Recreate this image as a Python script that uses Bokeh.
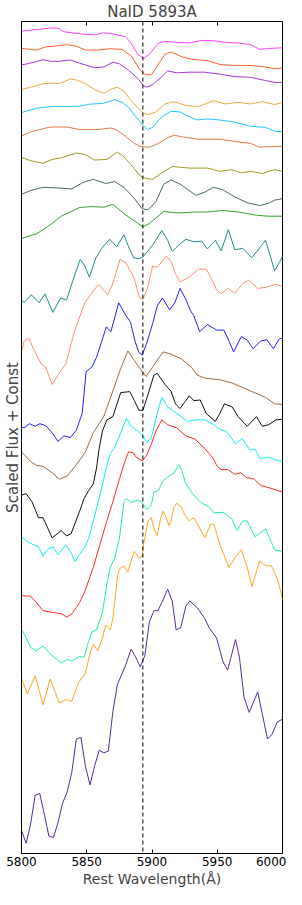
from bokeh.plotting import figure
from bokeh.models import Span, LinearAxis, FixedTicker, Range1d
from bokeh.embed import file_html
from bokeh.resources import INLINE

# ---------------- data (wavelength in Angstrom, scaled flux + const) ----------------
x_ticks = [5800, 5850, 5900, 5950, 6000]
nad_line = 5893

w_magenta = [5800, 5811.5, 5823.5, 5829, 5832.5, 5842, 5849, 5856, 5863, 5870, 5879.5, 5884, 5889, 5893.5,
             5898, 5905, 5910, 5919, 5928.5, 5938, 5947.5, 5956.5, 5966, 5975.5, 5982.5, 5989.5, 6000]
f_magenta = [25.72, 25.77, 25.82, 25.80, 25.70, 25.65, 25.62, 25.60, 25.67, 25.63, 25.55, 25.35, 25.00, 24.87,
             25.00, 25.35, 25.40, 25.37, 25.35, 25.43, 25.42, 25.37, 25.35, 25.30, 25.15, 25.18, 25.20]

w_orangered = [5800, 5807, 5811.5, 5818.5, 5825.5, 5835, 5842, 5849, 5858.5, 5868, 5877, 5884, 5891, 5894.5,
               5899.5, 5905, 5910, 5914.5, 5924, 5933, 5942.5, 5952, 5963.5, 5975.5, 5987, 5994, 6000]
f_orangered = [25.18, 25.15, 25.13, 25.23, 25.25, 25.30, 25.25, 25.13, 25.13, 25.17, 25.15, 24.95, 24.50, 24.38,
               24.35, 24.70, 25.00, 25.07, 24.90, 24.83, 24.80, 24.68, 24.65, 24.65, 24.60, 24.55, 24.57]

w_purple = [5800, 5804.5, 5811.5, 5816.5, 5822, 5829, 5837.5, 5844.5, 5856, 5863, 5870, 5875, 5882, 5889,
            5893.5, 5896, 5900.5, 5907.5, 5912, 5919, 5928.5, 5940, 5952, 5963.5, 5975.5, 5987, 5994, 6000]
f_purple = [24.67, 24.70, 24.77, 24.83, 24.78, 24.78, 24.82, 24.72, 24.58, 24.60, 24.75, 24.70, 24.50, 24.25,
            24.02, 23.97, 24.05, 24.30, 24.48, 24.42, 24.44, 24.44, 24.38, 24.30, 24.28, 24.18, 24.12, 24.12]

w_gold = [5800, 5807, 5816.5, 5823.5, 5829, 5837.5, 5842, 5849, 5856, 5863, 5869, 5873.5, 5878.5, 5884, 5891,
          5893.5, 5898, 5903, 5910, 5917, 5926, 5935.5, 5947, 5956.5, 5966, 5975.5, 5984.5, 5994, 6000]
f_gold = [23.90, 23.97, 24.08, 24.10, 24.08, 24.23, 24.20, 24.08, 23.90, 23.78, 23.92, 23.97, 23.85, 23.55, 23.25,
          23.15, 23.12, 23.20, 23.45, 23.52, 23.40, 23.37, 23.55, 23.45, 23.50, 23.45, 23.52, 23.43, 23.50]

w_sky = [5800, 5811.5, 5823.5, 5835, 5844.5, 5851.5, 5863, 5871.5, 5877, 5882, 5887.5, 5893, 5896.5, 5900.5,
         5907.5, 5914.5, 5921.5, 5928.5, 5934.5, 5942.5, 5952, 5963.5, 5975.5, 5987, 5994, 6000]
f_sky = [23.18, 23.32, 23.37, 23.37, 23.38, 23.44, 23.47, 23.58, 23.50, 23.35, 23.05, 22.80, 22.65, 22.72,
         23.05, 23.22, 23.20, 23.05, 22.95, 22.98, 22.95, 22.88, 22.75, 22.72, 22.60, 22.58]

w_sandy = [5800, 5807, 5814, 5822, 5835, 5844.5, 5858.5, 5868, 5872.5, 5879.5, 5886.5, 5891, 5898, 5905, 5912,
           5917, 5924, 5935.5, 5952, 5963.5, 5975.5, 5982.5, 5991.5, 6000]
f_sandy = [22.45, 22.58, 22.65, 22.73, 22.73, 22.65, 22.65, 22.70, 22.65, 22.45, 22.22, 22.12, 22.10, 22.22, 22.40,
           22.47, 22.42, 22.35, 22.35, 22.28, 22.22, 22.10, 22.12, 22.13]

w_olive = [5800, 5807, 5816.5, 5823.5, 5830.5, 5842, 5849, 5856, 5865.5, 5873.5, 5878.5, 5884, 5891, 5896,
           5900.5, 5907.5, 5915.5, 5928.5, 5942.5, 5952, 5961, 5968.5, 5975.5, 5984.5, 5994, 6000]
f_olive = [21.78, 21.68, 21.60, 21.72, 21.77, 21.92, 21.87, 21.70, 21.72, 21.95, 21.80, 21.55, 21.20, 21.12,
           21.10, 21.30, 21.50, 21.45, 21.45, 21.35, 21.40, 21.30, 21.35, 21.28, 21.40, 21.35]

w_slate = [5800, 5807, 5816.5, 5828, 5838.5, 5847, 5855, 5864.5, 5871.5, 5878.5, 5886.5, 5892.5, 5897, 5903,
           5909, 5914.5, 5921.5, 5928.5, 5933.5, 5940.5, 5947, 5954, 5963.5, 5973, 5982.5, 5989, 5994, 6000]
f_slate = [20.63, 20.75, 20.85, 20.83, 20.80, 21.00, 21.10, 20.97, 21.03, 20.85, 20.50, 20.18, 20.15, 20.40,
           20.95, 21.08, 20.95, 20.75, 20.60, 20.70, 20.85, 20.78, 20.55, 20.37, 20.28, 20.35, 20.45, 20.50]

w_green = [5800, 5807, 5811.5, 5821, 5830.5, 5844.5, 5854, 5863, 5870, 5879.5, 5886.5, 5893, 5898, 5909, 5919,
           5933, 5942.5, 5954, 5966, 5980, 5989, 6000]
f_green = [19.25, 19.35, 19.40, 19.65, 19.95, 20.22, 20.25, 20.23, 20.32, 20.00, 19.80, 19.62, 19.72, 20.10, 20.05,
           20.08, 20.08, 20.13, 20.08, 19.98, 19.95, 19.95]

w_teal = [5800, 5802, 5807.5, 5813.5, 5818, 5824, 5830, 5834.5, 5839, 5845, 5848.5, 5852, 5857, 5861.5, 5867.5,
          5873, 5878.5, 5882.5, 5886, 5889.5, 5893, 5900.5, 5907.5, 5912, 5915.5, 5920.5, 5926, 5932, 5938,
          5942.5, 5948.5, 5953, 5958.5, 5963.5, 5969.5, 5976.5, 5987, 5994, 5997.5, 6000]
f_teal = [17.35, 17.25, 17.50, 17.25, 17.53, 16.95, 17.40, 17.33, 17.90, 18.60, 18.40, 18.05, 18.65, 18.95, 19.23,
          19.00, 19.37, 18.95, 18.65, 18.62, 18.68, 19.05, 19.50, 19.20, 18.85, 19.05, 19.23, 19.15, 19.17,
          18.93, 19.20, 18.87, 19.53, 18.90, 18.95, 18.65, 19.20, 18.25, 18.50, 18.70]

w_salmon = [5800, 5802, 5805.5, 5810.5, 5815, 5818.5, 5823.5, 5828, 5834, 5840.5, 5848.5, 5859, 5866, 5869.5,
            5875.5, 5880, 5886, 5890.5, 5893, 5896.5, 5900.5, 5904, 5911, 5914.5, 5918, 5921.5, 5928.5, 5935.5,
            5941.5, 5945, 5949.5, 5953, 5958, 5963.5, 5969.5, 5974, 5981, 5987, 5995, 6000]
f_salmon = [15.70, 16.05, 16.15, 15.70, 15.35, 15.25, 14.70, 15.00, 15.35, 16.35, 17.25, 17.83, 17.50, 17.80,
            18.60, 18.50, 18.05, 17.40, 17.35, 17.70, 18.40, 18.35, 18.70, 18.55, 18.15, 17.90, 18.05, 18.30,
            18.30, 18.05, 17.65, 17.53, 17.70, 17.55, 17.85, 17.95, 17.70, 17.73, 17.83, 17.75]

w_blue = [5800, 5802, 5806, 5810.5, 5814, 5818.5, 5823.5, 5828, 5832.5, 5837.5, 5842, 5846.5, 5849.5, 5854,
          5857.5, 5861.5, 5865, 5868.5, 5874.5, 5880, 5883.5, 5887, 5890, 5892.5, 5896, 5900.5, 5904, 5908,
          5913.5, 5917.5, 5921.5, 5926, 5929.5, 5932, 5936.5, 5942.5, 5949.5, 5955, 5958, 5962.5, 5968.5, 5973,
          5977.5, 5983, 5988, 5993, 5997.5, 6000]
f_blue = [13.38, 13.35, 13.48, 13.40, 13.48, 13.42, 13.20, 12.93, 13.10, 13.05, 13.28, 13.80, 15.10, 15.25,
          15.55, 16.05, 16.50, 16.35, 17.25, 16.85, 16.65, 16.05, 15.70, 15.62, 16.00, 16.60, 17.15, 17.40,
          17.03, 17.25, 17.70, 17.35, 17.00, 16.85, 16.35, 16.57, 16.40, 16.40, 16.15, 15.72, 16.20, 16.08,
          15.82, 16.05, 16.10, 15.82, 16.12, 16.15]

w_brown = [5800, 5807, 5811.5, 5816.5, 5823.5, 5829, 5835, 5842, 5849, 5852.5, 5855, 5863, 5870, 5876, 5881.5,
           5886.5, 5892.5, 5895.5, 5900.5, 5908.5, 5914.5, 5922.5, 5930, 5934.5, 5940.5, 5952, 5961.5, 5975.5,
           5987, 5994, 6000]
f_brown = [12.60, 12.30, 12.18, 12.15, 11.95, 11.75, 11.85, 12.20, 12.60, 12.95, 13.20, 13.70, 14.50, 15.20, 15.75,
           15.45, 15.10, 14.95, 15.25, 15.72, 15.65, 15.50, 15.25, 15.00, 14.90, 14.85, 14.75, 14.50,
           14.30, 14.10, 14.08]

w_black = [5800, 5803.5, 5808, 5813, 5816.5, 5823.5, 5830.5, 5834.5, 5838, 5844.5, 5848, 5851.5, 5855, 5857.5,
           5859.5, 5862, 5865.5, 5870, 5876, 5883, 5886.5, 5890, 5893, 5897, 5901.5, 5904, 5910, 5914.5, 5918,
           5921.5, 5925, 5928.5, 5932, 5937, 5941.5, 5948.5, 5952, 5955.5, 5961.5, 5966, 5973, 5980, 5984.5,
           5989.5, 5995, 6000]
f_black = [11.25, 11.30, 11.05, 10.55, 10.55, 9.92, 10.15, 9.98, 10.05, 10.75, 11.15, 11.40, 11.60, 12.10,
           12.70, 13.25, 13.60, 13.70, 14.45, 14.48, 14.20, 13.90, 13.90, 14.40, 15.00, 15.05, 14.70, 14.50, 14.10,
           13.95, 14.15, 14.35, 14.20, 14.22, 13.80, 13.55, 13.80, 14.10, 14.00, 13.70, 13.40, 13.70, 13.40,
           13.45, 13.60, 13.62]

w_cyan = [5800, 5804.5, 5809.5, 5813, 5816.5, 5821, 5824.5, 5828, 5834, 5837.5, 5841, 5844.5, 5848, 5851.5,
          5856, 5861, 5865.5, 5868, 5871.5, 5875, 5880.5, 5884, 5889, 5893, 5896, 5899.5, 5904, 5907.5, 5912,
          5919, 5927.5, 5933, 5940.5, 5947.5, 5952, 5956.5, 5961.5, 5964, 5969, 5975, 5979, 5983, 5989, 5996,
          6000]
f_cyan = [9.95, 9.80, 9.70, 9.65, 9.35, 9.60, 9.63, 9.40, 9.70, 9.50, 9.18, 9.40, 9.60, 9.90,
          10.60, 11.40, 12.20, 12.55, 12.75, 13.10, 13.65, 13.40, 13.25, 13.10, 12.90, 13.05, 13.80, 14.30, 14.00,
          13.80, 13.55, 13.60, 13.60, 13.45, 13.30, 13.25, 13.00, 12.85, 13.02, 12.66, 12.68, 12.39, 12.44, 12.33,
          12.31]

w_red = [5800, 5807, 5811.5, 5816.5, 5823.5, 5830.5, 5835, 5838.5, 5842, 5844.5, 5849, 5855, 5860, 5865, 5870,
         5875, 5878.5, 5882, 5885.5, 5887.5, 5892.5, 5896, 5899.5, 5903, 5907.5, 5912, 5919, 5926, 5933, 5940.5,
         5946, 5950, 5953, 5958, 5963.5, 5968, 5972.5, 5978.5, 5983.5, 5990, 6000]
f_red = [8.12, 8.10, 7.90, 7.65, 7.60, 7.55, 7.45, 7.55, 7.75, 7.90, 8.30, 9.00, 9.70, 10.40, 11.05,
         11.75, 12.22, 12.60, 12.58, 12.45, 12.32, 12.50, 12.85, 13.25, 13.60, 13.45, 13.35, 13.10, 13.00, 12.70,
         12.45, 12.15, 12.05, 12.05, 11.90, 11.95, 11.80, 11.75, 11.55, 11.48, 11.35]

w_aqua = [5800, 5802.5, 5807, 5811.5, 5816.5, 5822, 5830.5, 5835, 5838.5, 5844.5, 5848, 5851.5, 5854, 5857.5,
          5862, 5865.5, 5868, 5871.5, 5875, 5878.5, 5880.5, 5884, 5889, 5892.5, 5896, 5899.5, 5901.5, 5905,
          5908.5, 5912, 5917, 5920.5, 5922.5, 5926, 5931, 5938, 5942.5, 5947.5, 5954.5, 5961.5, 5965, 5969.5,
          5973, 5976.5, 5979, 5987, 5994, 6000]
f_aqua = [7.05, 6.90, 6.50, 6.40, 6.55, 6.30, 6.02, 6.13, 6.08, 6.22, 6.20, 6.70, 7.00, 7.05,
          7.60, 8.50, 9.00, 9.30, 9.90, 11.05, 11.15, 11.02, 11.10, 11.02, 10.80, 10.95, 11.35, 11.40,
          11.70, 11.82, 11.95, 12.20, 12.05, 11.60, 11.30, 11.00, 10.92, 10.70, 10.72, 10.50, 10.15, 10.45,
          10.45, 10.15, 9.95, 10.20, 9.55, 9.50]

w_orange = [5800, 5804.5, 5810.5, 5816.5, 5822, 5829, 5834, 5838.5, 5843.5, 5849, 5853, 5855, 5858.5, 5862,
            5864.5, 5868, 5870, 5873.5, 5875, 5878.5, 5881.5, 5884, 5886.5, 5890, 5892.5, 5893.5, 5897, 5899.5,
            5901.5, 5904, 5906.5, 5908.5, 5911, 5913, 5914.5, 5917, 5919, 5922.5, 5925, 5928.5, 5932, 5935.5,
            5940.5, 5945, 5947.5, 5952, 5959, 5963.5, 5968.5, 5973, 5976.5, 5982.5, 5987, 5991.5, 5996.5, 6000]
f_orange = [5.55, 5.05, 5.62, 4.72, 5.52, 4.77, 4.88, 4.82, 5.40, 5.70, 6.40, 6.60, 6.40, 6.80,
            7.20, 7.05, 7.40, 8.70, 8.95, 9.05, 8.85, 9.20, 9.50, 9.30, 9.35, 9.70, 10.45, 10.55,
            10.20, 10.00, 10.50, 10.75, 10.55, 10.30, 10.45, 10.90, 11.00, 10.88, 10.65, 10.45, 10.55, 10.30,
            9.93, 10.35, 10.35, 9.70, 9.00, 9.30, 9.55, 9.00, 8.40, 9.20, 9.05, 9.05, 8.60, 8.00]

w_indigo = [5800, 5803.5, 5807, 5810.5, 5814, 5817.5, 5821, 5824.5, 5828, 5831.5, 5835, 5838.5, 5842, 5845.5,
            5849, 5852.5, 5856, 5859.5, 5863, 5866.5, 5870, 5873.5, 5879.5, 5884, 5887.5, 5891, 5894.5, 5898,
            5901.5, 5904.5, 5907.5, 5912, 5915.5, 5918.5, 5922, 5926, 5929, 5934.5, 5940.5, 5944, 5949.5, 5954.5,
            5958, 5964, 5967, 5970.5, 5974.5, 5981, 5988.5, 5992, 5996, 6000]
f_indigo = [0.80, 0.40, 1.00, 1.90, 1.95, 1.30, 0.62, 0.58, 1.05, 1.65, 2.00, 2.60, 3.65, 3.70,
            2.80, 2.22, 2.80, 3.30, 3.22, 3.27, 4.50, 5.35, 5.92, 6.45, 6.20, 5.90, 6.25, 7.30,
            7.65, 7.65, 7.90, 8.32, 7.95, 7.05, 7.12, 7.80, 7.95, 7.75, 7.40, 7.10, 6.80, 6.05,
            5.80, 6.75, 6.20, 4.95, 4.48, 5.12, 3.65, 3.80, 4.18, 4.27]

spectra = [
    (w_magenta, f_magenta, "#ff40ff"),
    (w_orangered, f_orangered, "#ff6030"),
    (w_purple, f_purple, "#a535e0"),
    (w_gold, f_gold, "#e5ad3c"),
    (w_sky, f_sky, "#22c8ff"),
    (w_sandy, f_sandy, "#e07a45"),
    (w_olive, f_olive, "#a09a25"),
    (w_slate, f_slate, "#4a6a6a"),
    (w_green, f_green, "#35a030"),
    (w_teal, f_teal, "#228c8c"),
    (w_salmon, f_salmon, "#ff9070"),
    (w_blue, f_blue, "#2020ff"),
    (w_brown, f_brown, "#a06a40"),
    (w_black, f_black, "#111111"),
    (w_cyan, f_cyan, "#10f0f0"),
    (w_red, f_red, "#ff2a2a"),
    (w_aqua, f_aqua, "#20f09a"),
    (w_orange, f_orange, "#ffa520"),
    (w_indigo, f_indigo, "#5a2aa0"),
]

# ---------------- figure ----------------
FONT = "DejaVu Sans"
p = figure(width=286, height=889, output_backend="svg", toolbar_location=None,
           x_range=Range1d(5800, 6000), y_range=Range1d(0.08, 26.02),
           title="NaID 5893A",
           min_border_left=0, min_border_right=4, min_border_top=0, min_border_bottom=0)
p.title.text_font = FONT
p.title.text_font_size = "15px"
p.title.text_font_style = "normal"
p.title.align = "center"
p.title.standoff = 1
p.background_fill_color = "white"
p.border_fill_color = "white"
p.outline_line_color = "black"
p.outline_line_width = 1
p.grid.visible = False

xa = p.xaxis[0]
xa.ticker = FixedTicker(ticks=x_ticks)
xa.major_tick_in = 4
xa.major_tick_out = 0
xa.minor_tick_line_color = None
xa.axis_line_color = "black"
xa.major_label_text_font = FONT
xa.major_label_text_font_size = "12px"
xa.major_label_text_color = "black"
xa.major_label_standoff = 3
xa.axis_label = "Rest Wavelength(Å)"
xa.axis_label_text_font = FONT
xa.axis_label_text_font_size = "14px"
xa.axis_label_text_font_style = "normal"
xa.axis_label_standoff = 2

ya = p.yaxis[0]
ya.ticker = FixedTicker(ticks=[])
ya.major_label_text_font_size = "1px"
ya.major_label_text_color = None
ya.major_label_standoff = 0
ya.major_tick_line_color = None
ya.minor_tick_line_color = None
ya.axis_line_color = "black"
ya.axis_label = "Scaled Flux + Const"
ya.axis_label_text_font = FONT
ya.axis_label_text_font_size = "15px"
ya.axis_label_text_font_style = "normal"
ya.axis_label_standoff = 0

top = LinearAxis(ticker=FixedTicker(ticks=x_ticks), major_label_text_font_size="1px",
                 major_label_text_color=None,
                 major_label_standoff=0, major_tick_in=4, major_tick_out=0,
                 minor_tick_line_color=None, axis_line_color="black")
p.add_layout(top, "above")

for w, f, c in spectra:
    p.line(w, f, line_color=c, line_width=1.0)

p.add_layout(Span(location=nad_line, dimension="height", line_color="black",
                  line_width=1, line_dash="4 3"))

open("out.html", "w").write(file_html(p, INLINE))
